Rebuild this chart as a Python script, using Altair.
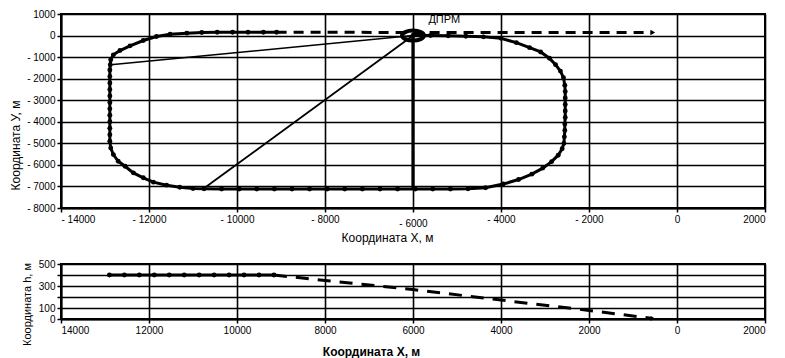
import altair as alt
import pandas as pd

# ---------------- data ----------------
loop_x = [-6000, -5600, -5200, -4800, -4400, -4000, -3650, -3350, -3100, -2900,
          -2760, -2650, -2580, -2550, -2540, -2540, -2540, -2540, -2540, -2550,
          -2550, -2560, -2570, -2610, -2700, -2850, -3050, -3300, -3600, -3950,
          -4350, -4750, -5150, -5550, -5950, -6350, -6750, -7150, -7550, -7950,
          -8350, -8750, -9150, -9550, -9950, -10350, -10750, -11000, -11300, -11600,
          -11900, -12130, -12355, -12545, -12700, -12810, -12870, -12890, -12890, -12890,
          -12890, -12890, -12890, -12890, -12890, -12890, -12890, -12890, -12890, -12880,
          -12870, -12810, -12660, -12430, -12130, -11830, -11520, -11140, -10800, -10450,
          -10100, -9750, -9400, -9100]
loop_y = [10, 0, -10, -30, -60, -130, -330, -560, -760, -1050,
          -1350, -1650, -1950, -2300, -2600, -2900, -3200, -3500, -3800, -4100,
          -4400, -4700, -5000, -5250, -5550, -5850, -6150, -6430, -6680, -6890,
          -7060, -7110, -7120, -7120, -7120, -7120, -7120, -7120, -7120, -7120,
          -7120, -7120, -7120, -7120, -7120, -7120, -7110, -7100, -7035, -6940,
          -6800, -6600, -6370, -6065, -5833, -5523, -5215, -4900, -4600, -4300,
          -4000, -3700, -3400, -3100, -2800, -2500, -2200, -1900, -1600, -1356,
          -1125, -894, -694, -477, -231, -46, 65, 111, 140, 150,
          150, 150, 150, 150]

dash_x = [-9100, -550]
dash_y = [150, 140]

ray1_x = [-6000, -12870]
ray1_y = [0, -1356]
ray2_x = [-6000, -10765]
ray2_y = [0, -7110]
vert_x = [-6000, -6000]
vert_y = [0, -7110]

dprm_x = [-6000]
dprm_y = [0]
dprm_label = ["ДПРМ"]
dprm_label_x = [-5650]
dprm_label_y = [730]

level_x = [-12900, -12560, -12220, -11880, -11540, -11200, -10860, -10520,
           -10180, -9840, -9500, -9160]
level_h = [400, 400, 400, 400, 400, 400, 400, 400, 400, 400, 400, 400]
desc_x = [-9160, -8000, -6000, -4000, -2000, -550]
desc_h = [400, 350, 268, 172, 78, 5]

x_ticks = [-14000, -12000, -10000, -8000, -6000, -4000, -2000, 0, 2000]
y_ticks = [1000, 0, -1000, -2000, -3000, -4000, -5000, -6000, -7000, -8000]
h_ticks = [0, 100, 200, 300, 400, 500]

# ---------------- tables ----------------
loop_df = pd.DataFrame({"x": loop_x, "y": loop_y, "i": list(range(len(loop_x)))})
dash_df = pd.DataFrame({"x": dash_x, "y": dash_y})
ray1_df = pd.DataFrame({"x": ray1_x, "y": ray1_y})
ray2_df = pd.DataFrame({"x": ray2_x, "y": ray2_y})
vert_df = pd.DataFrame({"x": vert_x, "y": vert_y})
dprm_df = pd.DataFrame({"x": dprm_x, "y": dprm_y})
lab_df = pd.DataFrame({"x": dprm_label_x, "y": dprm_label_y, "t": dprm_label})
arrow_df = pd.DataFrame({"x": dash_x[-1:], "y": dash_y[-1:]})
level_df = pd.DataFrame({"x": level_x, "h": level_h})
desc_df = pd.DataFrame({"x": desc_x, "h": desc_h})
arrow2_df = pd.DataFrame({"x": desc_x[-1:], "h": desc_h[-1:]})

LABEL_FONT = "Liberation Sans Narrow, Arial Narrow, Liberation Sans"
TITLE_FONT = "Liberation Sans, Arial"

xscale = alt.Scale(domain=[-14000, 2000], nice=False, zero=False)
yscale = alt.Scale(domain=[-8000, 1000], nice=False, zero=False)
hscale = alt.Scale(domain=[0, 500], nice=False)

top_x = alt.X("x:Q", scale=xscale, axis=alt.Axis(
    values=x_ticks,
    labelExpr="datum.value < 0 ? '- ' + format(-datum.value, 'd') : format(datum.value, 'd')",
    title="Координата X, м", titleX=326, titleAlign="center", titlePadding=4,
    labelPadding={"condition": {"test": "datum.value == -6000", "value": 6}, "value": 2},
))
top_y = alt.Y("y:Q", scale=yscale, axis=alt.Axis(
    values=y_ticks,
    labelExpr="datum.value < 0 ? '- ' + format(-datum.value, 'd') : format(datum.value, 'd')",
    title="Координата У, м", titleY=131, titlePadding=4,
))

loop = alt.Chart(loop_df).mark_line(
    color="black", strokeWidth=3,
    point=alt.OverlayMarkDef(filled=True, color="black", size=24),
).encode(x=top_x, y=top_y, order="i:Q")
dash = alt.Chart(dash_df).mark_line(color="black", strokeWidth=3, strokeDash=[10, 7]).encode(x=top_x, y=top_y)
arrow = alt.Chart(arrow_df).mark_point(shape="triangle-right", filled=True, color="black", size=30, opacity=1).encode(x=top_x, y=top_y)
ray1 = alt.Chart(ray1_df).mark_line(color="black", strokeWidth=1.6).encode(x=top_x, y=top_y)
ray2 = alt.Chart(ray2_df).mark_line(color="black", strokeWidth=1.8).encode(x=top_x, y=top_y)
vert = alt.Chart(vert_df).mark_line(color="black", strokeWidth=3.2).encode(x=top_x, y=top_y)
ellipse_path = ("M-1,0 C-1,-0.2485 -0.5523,-0.45 0,-0.45 C0.5523,-0.45 1,-0.2485 1,0 "
                "C1,0.2485 0.5523,0.45 0,0.45 C-0.5523,0.45 -1,0.2485 -1,0 Z")
dprm = alt.Chart(dprm_df).mark_point(shape=ellipse_path, size=484, filled=False,
                                     color="black", strokeWidth=4, opacity=1).encode(x=top_x, y=top_y)
label = alt.Chart(lab_df).mark_text(align="left", baseline="middle", font=TITLE_FONT,
                                    fontSize=11, color="black").encode(x=top_x, y=top_y, text="t:N")

top = alt.layer(vert, ray1, ray2, loop, dash, arrow, dprm, label).properties(width=704, height=194)

bot_x = alt.X("x:Q", scale=xscale, axis=alt.Axis(
    values=x_ticks,
    labelExpr="format(abs(datum.value), 'd')",
    title="Координата X, м", titleX=310, titleAlign="center", titlePadding=11,
    titleFontWeight="bold",
))
bot_y = alt.Y("h:Q", scale=hscale, axis=alt.Axis(
    values=h_ticks,
    labelExpr="(datum.value == 200 || datum.value == 400) ? '' : format(datum.value, 'd')",
    title="Координата h, м", titleY=40, titlePadding=6, titleFontSize=11,
))

level = alt.Chart(level_df).mark_line(
    color="black", strokeWidth=3,
    point=alt.OverlayMarkDef(filled=True, color="black", size=24),
).encode(x=bot_x, y=bot_y)
desc = alt.Chart(desc_df).mark_line(color="black", strokeWidth=3, strokeDash=[13, 9]).encode(x=bot_x, y=bot_y)
arrow2 = alt.Chart(arrow2_df).mark_point(shape="triangle-right", filled=True, color="black", size=25, opacity=1).encode(x=bot_x, y=bot_y)

bottom = alt.layer(level, desc, arrow2).properties(width=704, height=55)

chart = alt.vconcat(top, bottom, spacing=14).properties(
    padding={"left": 0, "top": 0, "right": 5, "bottom": 0},
    background="white",
).configure_axis(
    domainColor="black", domainWidth=2,
    grid=True, gridColor="black", gridWidth=1.6, gridOpacity=1,
    tickColor="black", tickSize=4, tickWidth=1.5,
    labelFont=LABEL_FONT, labelFontSize=10, labelColor="black",
    titleFont=TITLE_FONT, titleFontSize=12, titleColor="black", titleFontWeight="normal",
).configure_view(stroke="black", strokeWidth=2)

chart.save("out.html", embed_options={"renderer": "svg", "actions": False})
